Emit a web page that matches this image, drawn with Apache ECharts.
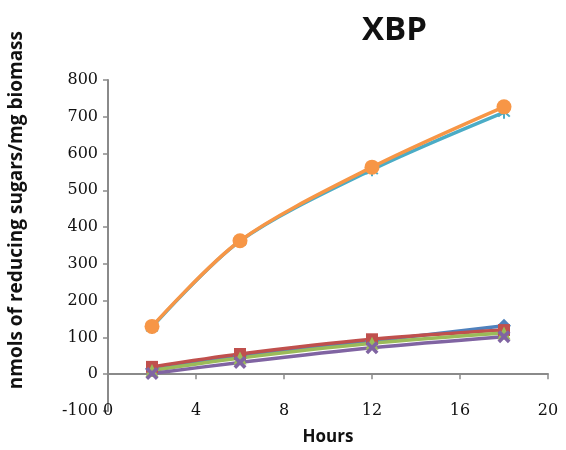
<!DOCTYPE html>
<html style="height: 100%" lang="en">
<head>
    <meta charset="UTF-8">
    <title>XBP</title>
</head>
<body style="height: 100%; margin: 0; background: #fff">
<div id="main1" style="width: 566px; height: 450px"></div>

<script src="https://cdn.jsdelivr.net/npm/echarts@6/dist/echarts.min.js"></script>
<script type="text/javascript">

    // data
    var hours = [2, 6, 12, 18];
    var blueDiamond = [15, 50, 90, 132];
    var redSquare = [20, 55, 95, 120];
    var greenTriangle = [10, 44, 84, 112];
    var purpleCross = [2, 32, 72, 102];
    var cyanStar = [128, 362, 556, 712];
    var orangeCircle = [130, 363, 563, 727];

    var xTicks = [0, 4, 8, 12, 16, 20];
    var yTicks = [-100, 0, 100, 200, 300, 400, 500, 600, 700, 800];

    var crossPath = 'path://M0,2L2,0L5,3L8,0L10,2L7,5L10,8L8,10L5,7L2,10L0,8L3,5Z';
    var starPath = 'path://M4.3,0H5.7V4L8.5,1.2L9.5,2.2L6.7,5L9.5,7.8L8.5,8.8L5.7,6V10H4.3V6L1.5,8.8L0.5,7.8L3.3,5L0.5,2.2L1.5,1.2L4.3,4Z';

    function pairs(vals) {
        return hours.map(function (h, i) { return [h, vals[i]]; });
    }

    function line(name, color, symbol, vals, size) {
        return {
            name: name,
            type: 'line',
            data: pairs(vals),
            smooth: 0.3,
            symbol: symbol,
            symbolSize: size || 12,
            lineStyle: { color: color, width: 3.5 },
            itemStyle: { color: color },
            animation: false
        };
    }

    var myChart1 = echarts.init(document.getElementById('main1'));

    var axisGray = '#8a8a8a';

    var option1 = {
        backgroundColor: '#ffffff',
        title: {
            text: 'XBP',
            left: 357,
            top: 9,
            textStyle: { fontFamily: 'Open Sans', fontWeight: 'bold', fontSize: 33, color: '#111' }
        },
        grid: { left: 108, right: 18, top: 80, bottom: 39, outerBoundsMode: 'none' },
        xAxis: [{
            // labels + name along the bottom
            type: 'value',
            position: 'bottom',
            min: xTicks[0],
            max: xTicks[xTicks.length - 1],
            interval: 4,
            name: 'Hours',
            nameLocation: 'middle',
            nameGap: 18,
            nameTextStyle: { fontFamily: 'Open Sans', fontWeight: 'bold', fontSize: 17, color: '#111' },
            axisLine: { show: false, onZero: false },
            axisTick: { show: false },
            axisLabel: { margin: -8, fontFamily: 'DejaVu Serif', fontSize: 16, color: '#111' },
            splitLine: { show: false }
        }, {
            // line + ticks crossing at zero
            type: 'value',
            position: 'bottom',
            min: xTicks[0],
            max: xTicks[xTicks.length - 1],
            interval: 4,
            axisLine: { show: true, onZero: true, lineStyle: { color: axisGray, width: 2 } },
            axisTick: { show: true, length: 5, lineStyle: { color: axisGray, width: 1.5 } },
            axisLabel: { show: false },
            splitLine: { show: false }
        }],
        yAxis: {
            type: 'value',
            min: yTicks[0],
            max: yTicks[yTicks.length - 1],
            interval: 100,
            axisLine: { show: true, onZero: false, lineStyle: { color: axisGray, width: 2 } },
            axisTick: { show: true, length: 5, lineStyle: { color: axisGray, width: 1.5 } },
            axisLabel: { margin: 10, fontFamily: 'DejaVu Serif', fontSize: 16, color: '#111' },
            splitLine: { show: false }
        },
        graphic: [{
            type: 'text',
            left: 7,
            top: 31,
            rotation: Math.PI / 2,
            style: {
                text: 'nmols of reducing sugars/mg biomass',
                font: 'bold 19px "Open Sans"',
                fill: '#111'
            }
        }],
        series: [
            line('S1', '#4F81BD', 'diamond', blueDiamond, 14),
            line('S2', '#C0504D', 'rect', redSquare, 12),
            line('S3', '#9BBB59', 'triangle', greenTriangle, 13),
            line('S4', '#8064A2', crossPath, purpleCross, 13),
            line('S5', '#4BACC6', starPath, cyanStar, 13),
            line('S6', '#F79646', 'circle', orangeCircle, 15)
        ]
    };

    myChart1.setOption(option1);

</script>
</body>
</html>
